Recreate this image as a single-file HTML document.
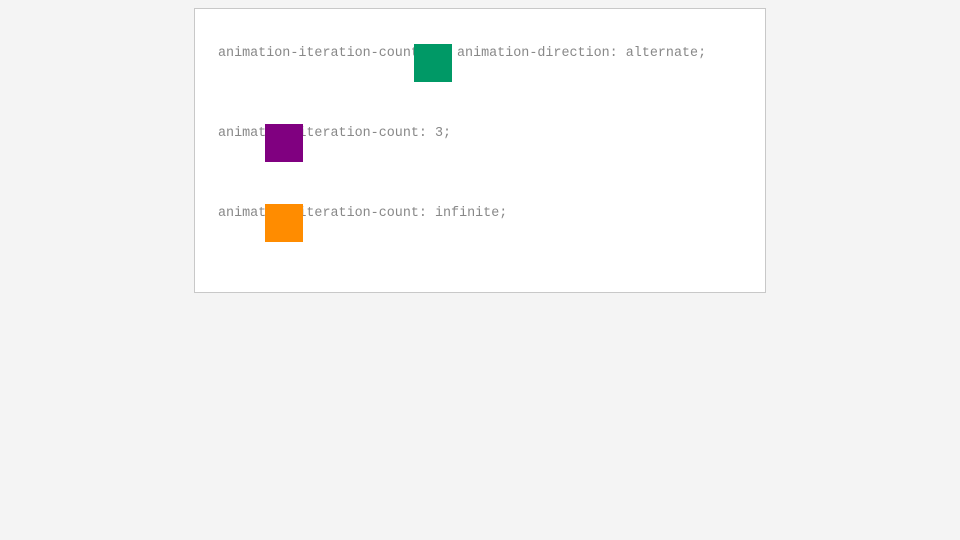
<!DOCTYPE html>
<html><head><style>
body{margin:0;width:960px;height:540px;background:#f4f4f4;position:relative;overflow:hidden;font-family:"Liberation Mono",monospace;}
.box{position:absolute;left:194px;top:8px;width:570px;height:283px;background:#fff;border:1px solid #c8c8c8;}
.t{position:absolute;font-size:13.4px;color:#888;white-space:pre;line-height:15px;}
.sq{position:absolute;width:38px;height:38px;}
</style></head><body>
<div class="box"></div>
<div class="t" style="left:218px;top:46px">animation-iteration-count: 2;</div>
<div class="t" style="left:457px;top:46px">animation-direction: alternate;</div>
<div class="sq" style="left:414px;top:44px;background:#009966"></div>
<div class="t" style="left:218px;top:126px">animation-iteration-count: 3;</div>
<div class="sq" style="left:265px;top:124px;background:#800080"></div>
<div class="t" style="left:218px;top:206px">animation-iteration-count: infinite;</div>
<div class="sq" style="left:265px;top:204px;background:#ff8c00"></div>
</body></html>
